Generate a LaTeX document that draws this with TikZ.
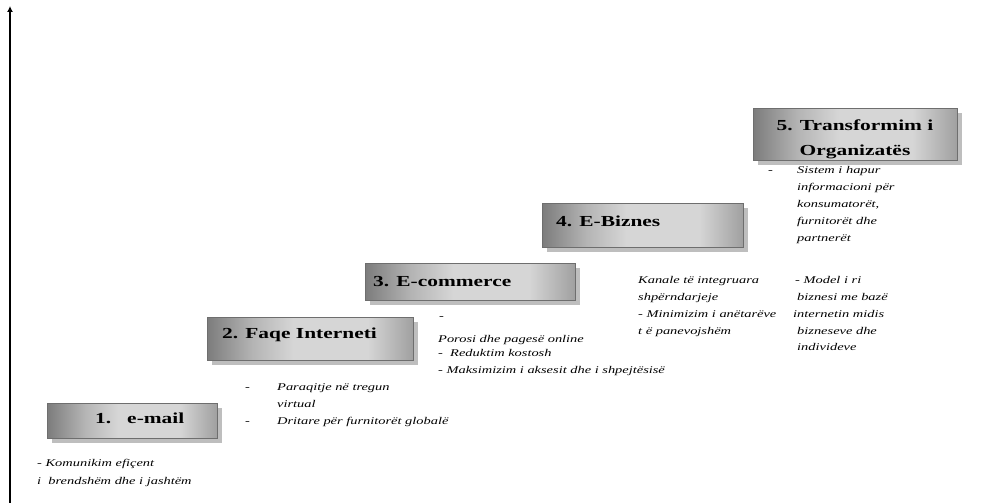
\documentclass[tikz,border=0pt]{standalone}
\usepackage{fontspec}
\setmainfont{Liberation Serif}[FakeStretch=1.4]
\usetikzlibrary{shadows,arrows.meta}

\definecolor{boxdark}{RGB}{124,124,124}
\definecolor{boxmid}{RGB}{180,180,180}
\definecolor{boxlight}{RGB}{214,214,214}
\definecolor{boxtop}{RGB}{160,160,160}
\definecolor{boxedge}{RGB}{110,110,110}
\definecolor{boxshadow}{RGB}{190,190,190}

% the shape is mapped onto the middle 25bp..75bp of the shading:
% dark on the left, a broad light band, a little darker at the far end
\pgfdeclarehorizontalshading{stepshade}{100bp}{
  color(0bp)=(boxdark); color(25bp)=(boxdark); color(36bp)=(boxmid);
  color(46bp)=(boxlight); color(64bp)=(boxlight); color(75bp)=(boxtop);
  color(100bp)=(boxtop)}

\tikzset{
  stepbox/.style={draw=boxedge, line width=0.6pt,
    shading=stepshade, shading angle=0,
    general shadow={fill=boxshadow, draw=none, shadow xshift=5pt, shadow yshift=-5pt},
    inner sep=0pt},
  steplabel/.style={anchor=base west, inner sep=0pt,
    font=\fontsize{15.3}{18}\selectfont\bfseries},
  steptitle/.style={anchor=base, inner sep=0pt,
    font=\fontsize{15.3}{18}\selectfont\bfseries},
  note/.style={anchor=base west, inner sep=0pt,
    font=\fontsize{10.3}{12}\selectfont\itshape},
  bullet/.style={anchor=base west, inner sep=0pt,
    font=\fontsize{10.3}{12}\selectfont},
  axisline/.style={line width=1.6pt, -{Latex[length=6pt,width=6pt]}}
}

\begin{document}
\begin{tikzpicture}[x=1pt,y=-1pt]
\useasboundingbox (0,0) rectangle (1002,503);

% vertical axis
\coordinate (ax0) at (10,503);
\coordinate (ax1) at (10,6);
\draw[axisline] (ax0) -- (ax1);

% step boxes
\node[stepbox, minimum width=170, minimum height=35] (b1) at (132,420.5) {};
\node[stepbox, minimum width=206, minimum height=43] (b2) at (310,338.5) {};
\node[stepbox, minimum width=210, minimum height=37] (b3) at (470,281.5) {};
\node[stepbox, minimum width=201, minimum height=44] (b4) at (642.5,225) {};
\node[stepbox, minimum width=204, minimum height=52] (b5) at (855,134) {};

% step titles
\node[steplabel] (l1) at (95,423) {1.\hspace{16pt}e-mail};
\node[steplabel] (l2) at (222,338) {2. Faqe Interneti};
\node[steplabel] (l3) at (373,286) {3. E-commerce};
\node[steplabel] (l4) at (556,226) {4. E-Biznes};
\node[steptitle] (l5a) at (855,130) {5. Transformim i};
\node[steptitle] (l5b) at (855,155) {Organizatës};

% 1. e-mail
\node[note] (n1a) at (37,466) {- Komunikim efiçent};
\node[note] (n1b) at (37,484) {i\ \ brendshëm dhe i jashtëm};

% 2. Faqe Interneti
\node[bullet] (d2a) at (245,390) {-};
\node[note] (n2a) at (277,390) {Paraqitje në tregun};
\node[note] (n2b) at (277,407) {virtual};
\node[bullet] (d2b) at (245,424) {-};
\node[note] (n2c) at (277,424) {Dritare për furnitorët globalë};

% 3. E-commerce
\node[bullet] (d3a) at (439,319) {-};
\node[note] (n3a) at (438,342) {Porosi dhe pagesë online};
\node[note] (n3b) at (438,356) {-\ \ Reduktim kostosh};
\node[note] (n3c) at (438,373) {- Maksimizim i aksesit dhe i shpejtësisë};

% 4. E-Biznes
\node[note] (n4a) at (638,283) {Kanale të integruara};
\node[note] (n4b) at (638,300) {shpërndarjeje};
\node[note] (n4c) at (638,317) {- Minimizim i anëtarëve};
\node[note] (n4d) at (638,334) {t ë panevojshëm};

\node[note] (n4e) at (795,283) {- Model i ri};
\node[note] (n4f) at (797,300) {biznesi me bazë};
\node[note] (n4g) at (793,317) {internetin midis};
\node[note] (n4h) at (797,334) {bizneseve dhe};
\node[note] (n4i) at (797,350) {individeve};

% 5. Transformim i Organizatës
\node[bullet] (d5a) at (768,173) {-};
\node[note] (n5a) at (797,173) {Sistem i hapur};
\node[note] (n5b) at (797,190) {informacioni për};
\node[note] (n5c) at (797,207) {konsumatorët,};
\node[note] (n5d) at (797,224) {furnitorët dhe};
\node[note] (n5e) at (797,241) {partnerët};
\end{tikzpicture}
\end{document}
